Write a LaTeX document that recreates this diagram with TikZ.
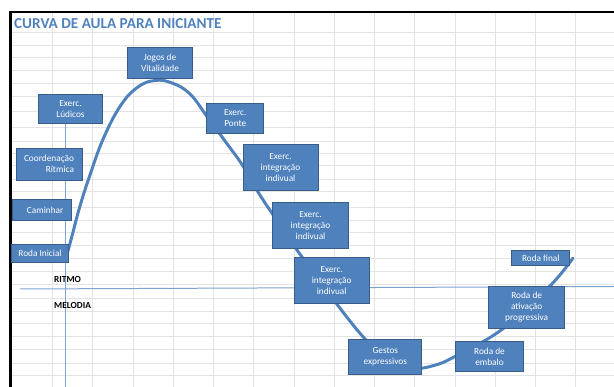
\documentclass[tikz,border=0pt]{standalone}
\usepackage{fontspec}
\setmainfont{Carlito}
\usepackage{tikz}
\usetikzlibrary{positioning}
\definecolor{caixa}{HTML}{4F81BD}
\definecolor{borda}{HTML}{385D8A}
\definecolor{linha}{HTML}{7FA3D0}
\definecolor{titulo}{HTML}{4F81BD}
\tikzset{
    etapa/.style={draw=borda, line width=1pt, fill=caixa, text=white, align=center, inner sep=1pt, font=\fontsize{9.3}{11}\selectfont},
    curva/.style={line width=3pt, caixa, line cap=round, line join=round},
    grade/.style={line width=0.9pt, gray!22},
    eixo/.style={line width=1pt, linha},
    rotulo/.style={anchor=west, inner sep=0pt, font=\fontsize{9.3}{11}\selectfont\bfseries}
}

\begin{document}
\begin{tikzpicture}[x=1pt, y=-1pt]
                \useasboundingbox (0,0) rectangle (614,387);
                \foreach \y in {32.3,45,57.7,70.7,83.3,96.7,111.7,127.7,141,153.3,165.7,179,191.7,207.3,220,232.7,245,258.3,271.7,284.3,298.3,311.7,323.3,336.7,349.3,363.3,375.7}
                    \draw[grade] (10,\y) -- (614,\y);
                \foreach \i in {0,...,13}
                    \draw[grade] ({52.5+40.25*\i},12) -- ({52.5+40.25*\i},387);
                \draw[black, line width=2.5pt] (9,12) -- (614,12);
                \draw[black, line width=3pt] (10.5,10.8) -- (10.5,387);
                \node[anchor=west, inner sep=0pt, text=titulo, font=\fontsize{15.2}{17}\selectfont\bfseries] (titulo) at (14,23.5) {CURVA DE AULA PARA INICIANTE};
                \draw[eixo] (20,289) -- (614,286.5);
                \draw[eixo] (65,115) -- (65,387);
                \node[rotulo] (ritmo) at (54,279) {RITMO};
                \node[rotulo] (melodia) at (54,305.7) {MELODIA};
                \draw[curva] plot[smooth, tension=0.7] coordinates {(66,258) (72,236) (80,206) (91,172) (104,137) (121,105) (138,87) (155,80.5) (172,83) (190,94) (207,116.5) (225,141) (243,166) (258,192) (280,225) (302,257) (336,303) (366,340) (390,361) (412,368) (432,366) (456,356) (504,328) (549,287) (573,258)};
                \node[etapa, minimum width=64.6pt, minimum height=31pt] (jogos) at (160,62.8) {Jogos de\\Vitalidade};
                \node[etapa, minimum width=64.4pt, minimum height=29.3pt] (ludicos) at (70.5,108.7) {Exerc.\\Lúdicos};
                \node[etapa, minimum width=57.3pt, minimum height=30pt] (ponte) at (235.3,118.3) {Exerc.\\Ponte};
                \node[etapa, align=right, minimum width=66pt, minimum height=31.7pt] (coordenacao) at (49,164.2) {Coordenação\\Rítmica};
                \node[etapa, minimum width=59pt, minimum height=20.7pt] (caminhar) at (42.2,210.3) {\hspace*{6pt}Caminhar};
                \node[etapa, minimum width=56.6pt, minimum height=17.7pt] (rodainicial) at (40,253.8) {Roda Inicial};
                \node[etapa, minimum width=75pt, minimum height=46pt] (integA) at (280.5,168) {Exerc.\\integração\\indivual};
                \node[etapa, minimum width=75.6pt, minimum height=45.6pt] (integB) at (310.5,225.5) {Exerc.\\integração\\indivual};
                \node[etapa, minimum width=75.3pt, minimum height=46pt] (integC) at (331.7,280.3) {Exerc.\\integração\\indivual};
                \node[etapa, minimum width=73.3pt, minimum height=34.7pt] (gestos) at (385.3,356.7) {Gestos\\expressivos};
                \node[etapa, minimum width=68.4pt, minimum height=30pt] (embalo) at (489.5,356.7) {Roda de\\embalo};
                \node[etapa, minimum width=76pt, minimum height=41.6pt] (ativacao) at (526.7,307.5) {Roda de\\ativação\\progressiva};
                \node[etapa, minimum width=58.3pt, minimum height=15.3pt] (final) at (540.8,258.3) {Roda final};
            \end{tikzpicture}
\end{document}
